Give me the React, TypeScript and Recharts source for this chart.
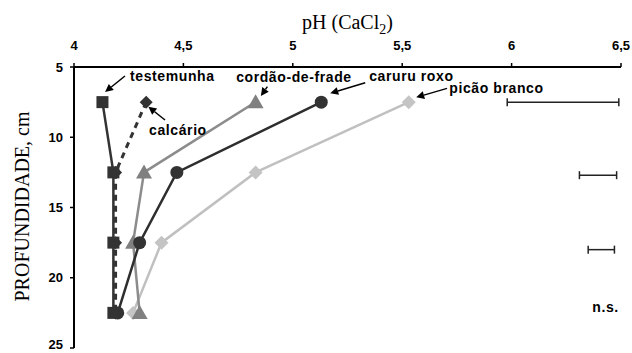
import { ComposedChart, Scatter, XAxis, YAxis, ReferenceLine, ReferenceDot } from "recharts";

// profundidade (cm) e pH de cada tratamento
const depths = [7.5, 12.5, 17.5, 22.5];
const testemunha = [4.13, 4.18, 4.18, 4.18];
const calcario = [4.33, 4.19, 4.19, 4.19];
const cordaoDeFrade = [4.83, 4.32, 4.27, 4.3];
const caruruRoxo = [5.13, 4.47, 4.3, 4.2];
const picaoBranco = [5.53, 4.83, 4.4, 4.27];

const phTicks = [4, 4.5, 5, 5.5, 6, 6.5];
const depthTicks = [5, 10, 15, 20, 25];

// barras de DMS
const lsdDepths = [7.5, 12.7, 18];
const lsdLow = [5.98, 6.31, 6.35];
const lsdHigh = [6.49, 6.48, 6.47];

const labels = [
    { text: "testemunha", ph: 4.256, depth: 5.64 },
    { text: "cordão-de-frade", ph: 4.741, depth: 5.69 },
    { text: "caruru roxo", ph: 5.349, depth: 5.64 },
    { text: "picão branco", ph: 5.715, depth: 6.52 },
    { text: "calcário", ph: 4.343, depth: 9.48 },
];

const arrows = [
    { from: [4.233, 5.64], to: [4.142, 6.78] },
    { from: [4.416, 8.77], to: [4.34, 7.83] },
    { from: [4.884, 6.4], to: [4.854, 7.06] },
    { from: [5.331, 6.12], to: [5.171, 6.87] },
    { from: [5.705, 6.52], to: [5.564, 7.16] },
];

const toPoints = (vals: number[]) => vals.map((ph, i) => ({ ph, depth: depths[i] }));

const sans = "'Liberation Sans', Arial, sans-serif";
const serif = "'Liberation Serif', 'Times New Roman', serif";

const XTick = (p: any) => (
    <text x={p.x} y={p.y} textAnchor="middle" fontFamily={sans} fontWeight={700} fontSize={13} fill="#000">
        {String(p.payload.value).replace(".", ",")}
    </text>
);
const YTick = (p: any) => (
    <text x={p.x} y={p.y} textAnchor="end" dominantBaseline="central" fontFamily={sans} fontWeight={700} fontSize={13} fill="#000">
        {p.payload.value}
    </text>
);

const square = (color: string) => (p: any) => (
    <rect x={p.cx - 6} y={p.cy - 6} width={12} height={12} fill={color} />
);
const diamond = (color: string, r: number) => (p: any) => (
    <polygon points={`${p.cx},${p.cy - r} ${p.cx + r},${p.cy} ${p.cx},${p.cy + r} ${p.cx - r},${p.cy}`} fill={color} />
);
const triangle = (color: string) => (p: any) => (
    <polygon points={`${p.cx},${p.cy - 8} ${p.cx + 8},${p.cy + 6} ${p.cx - 8},${p.cy + 6}`} fill={color} />
);
const circle = (color: string) => (p: any) => <circle cx={p.cx} cy={p.cy} r={6.5} fill={color} />;

const arrowShape = (p: any) => {
    const { x1, y1, x2, y2 } = p;
    const a = Math.atan2(y2 - y1, x2 - x1);
    const len = 8, w = 4;
    const bx = x2 - len * Math.cos(a), by = y2 - len * Math.sin(a);
    const nx = -Math.sin(a) * w, ny = Math.cos(a) * w;
    return (
        <g>
            <line x1={x1} y1={y1} x2={bx} y2={by} stroke="#000" strokeWidth={1.5} />
            <polygon points={`${x2},${y2} ${bx + nx},${by + ny} ${bx - nx},${by - ny}`} fill="#000" />
        </g>
    );
};

const errorShape = (p: any) => {
    const { x1, y1, x2, y2 } = p;
    return (
        <g stroke="#222" strokeWidth={1.5}>
            <line x1={x1} y1={y1} x2={x2} y2={y2} />
            <line x1={x1} y1={y1 - 4} x2={x1} y2={y1 + 4} />
            <line x1={x2} y1={y2 - 4} x2={x2} y2={y2 + 4} />
        </g>
    );
};

const textShape = (text: string, anchor: "start" | "end") => (p: any) => (
    <text x={p.cx} y={p.cy} textAnchor={anchor} dominantBaseline="central"
        fontFamily={sans} fontWeight={700} fontSize={14} letterSpacing={0.6} fill="#000">
        {text}
    </text>
);

const XTitle = (props: any) => {
    const vb = props.viewBox;
    return (
        <text x={vb.x + vb.width / 2} y={29} textAnchor="middle" fontFamily={serif} fontSize={20} fill="#000">
            pH (CaCl<tspan fontSize={14} dy={5}>2</tspan><tspan dy={-5}>)</tspan>
        </text>
    );
};

const YTitle = (props: any) => {
    const vb = props.viewBox;
    const cy = vb.y + vb.height / 2 - 1;
    return (
        <text x={22} y={cy} transform={`rotate(-90, 22, ${cy})`} textAnchor="middle" dominantBaseline="central"
            fontFamily={serif} fontSize={20} fill="#000">
            PROFUNDIDADE, cm
        </text>
    );
};

export default function App() {
    return (
        <div style={{ position: "absolute", left: 0, top: 0, background: "#fff" }}>
            <ComposedChart width={632} height={353} margin={{ top: 0, right: 11, bottom: 5, left: 0 }}>
                <XAxis
                    type="number"
                    dataKey="ph"
                    orientation="top"
                    domain={[4, 6.5]}
                    ticks={phTicks}
                    height={67}
                    tick={<XTick />}
                    axisLine={{ stroke: "#000", strokeWidth: 2 }}
                    tickLine={{ stroke: "#000", strokeWidth: 1.5 }}
                    tickSize={4}
                    tickMargin={13}
                    label={<XTitle />}
                />
                <YAxis
                    type="number"
                    dataKey="depth"
                    domain={[5, 25]}
                    reversed
                    ticks={depthTicks}
                    width={74}
                    tick={<YTick />}
                    axisLine={{ stroke: "#000", strokeWidth: 2 }}
                    tickLine={{ stroke: "#000", strokeWidth: 1.5 }}
                    tickSize={4}
                    tickMargin={7}
                    label={<YTitle />}
                />
                <Scatter data={toPoints(picaoBranco)} line={{ stroke: "#c0c0c0", strokeWidth: 2.5 }} shape={diamond("#c4c4c4", 7)} isAnimationActive={false} />
                <Scatter data={toPoints(cordaoDeFrade)} line={{ stroke: "#8c8c8c", strokeWidth: 2.5 }} shape={triangle("#808080")} isAnimationActive={false} />
                <Scatter data={toPoints(caruruRoxo)} line={{ stroke: "#2e2e2e", strokeWidth: 2.5 }} shape={circle("#333")} isAnimationActive={false} />
                <Scatter data={toPoints(calcario)} line={{ stroke: "#333", strokeWidth: 3, strokeDasharray: "6 5" }} shape={diamond("#333", 6.5)} isAnimationActive={false} />
                <Scatter data={toPoints(testemunha)} line={{ stroke: "#333", strokeWidth: 2.5 }} shape={square("#333")} isAnimationActive={false} />
                {lsdDepths.map((d, i) => (
                    <ReferenceLine key={`lsd${i}`} segment={[{ x: lsdLow[i], y: d }, { x: lsdHigh[i], y: d }]} shape={errorShape} />
                ))}
                {arrows.map((a, i) => (
                    <ReferenceLine key={`arr${i}`} segment={[{ x: a.from[0], y: a.from[1] }, { x: a.to[0], y: a.to[1] }]} shape={arrowShape} />
                ))}
                {labels.map((l) => (
                    <ReferenceDot key={l.text} x={l.ph} y={l.depth} shape={textShape(l.text, "start")} />
                ))}
                <ReferenceDot x={6.49} y={22.06} shape={textShape("n.s.", "end")} />
            </ComposedChart>
        </div>
    );
}
